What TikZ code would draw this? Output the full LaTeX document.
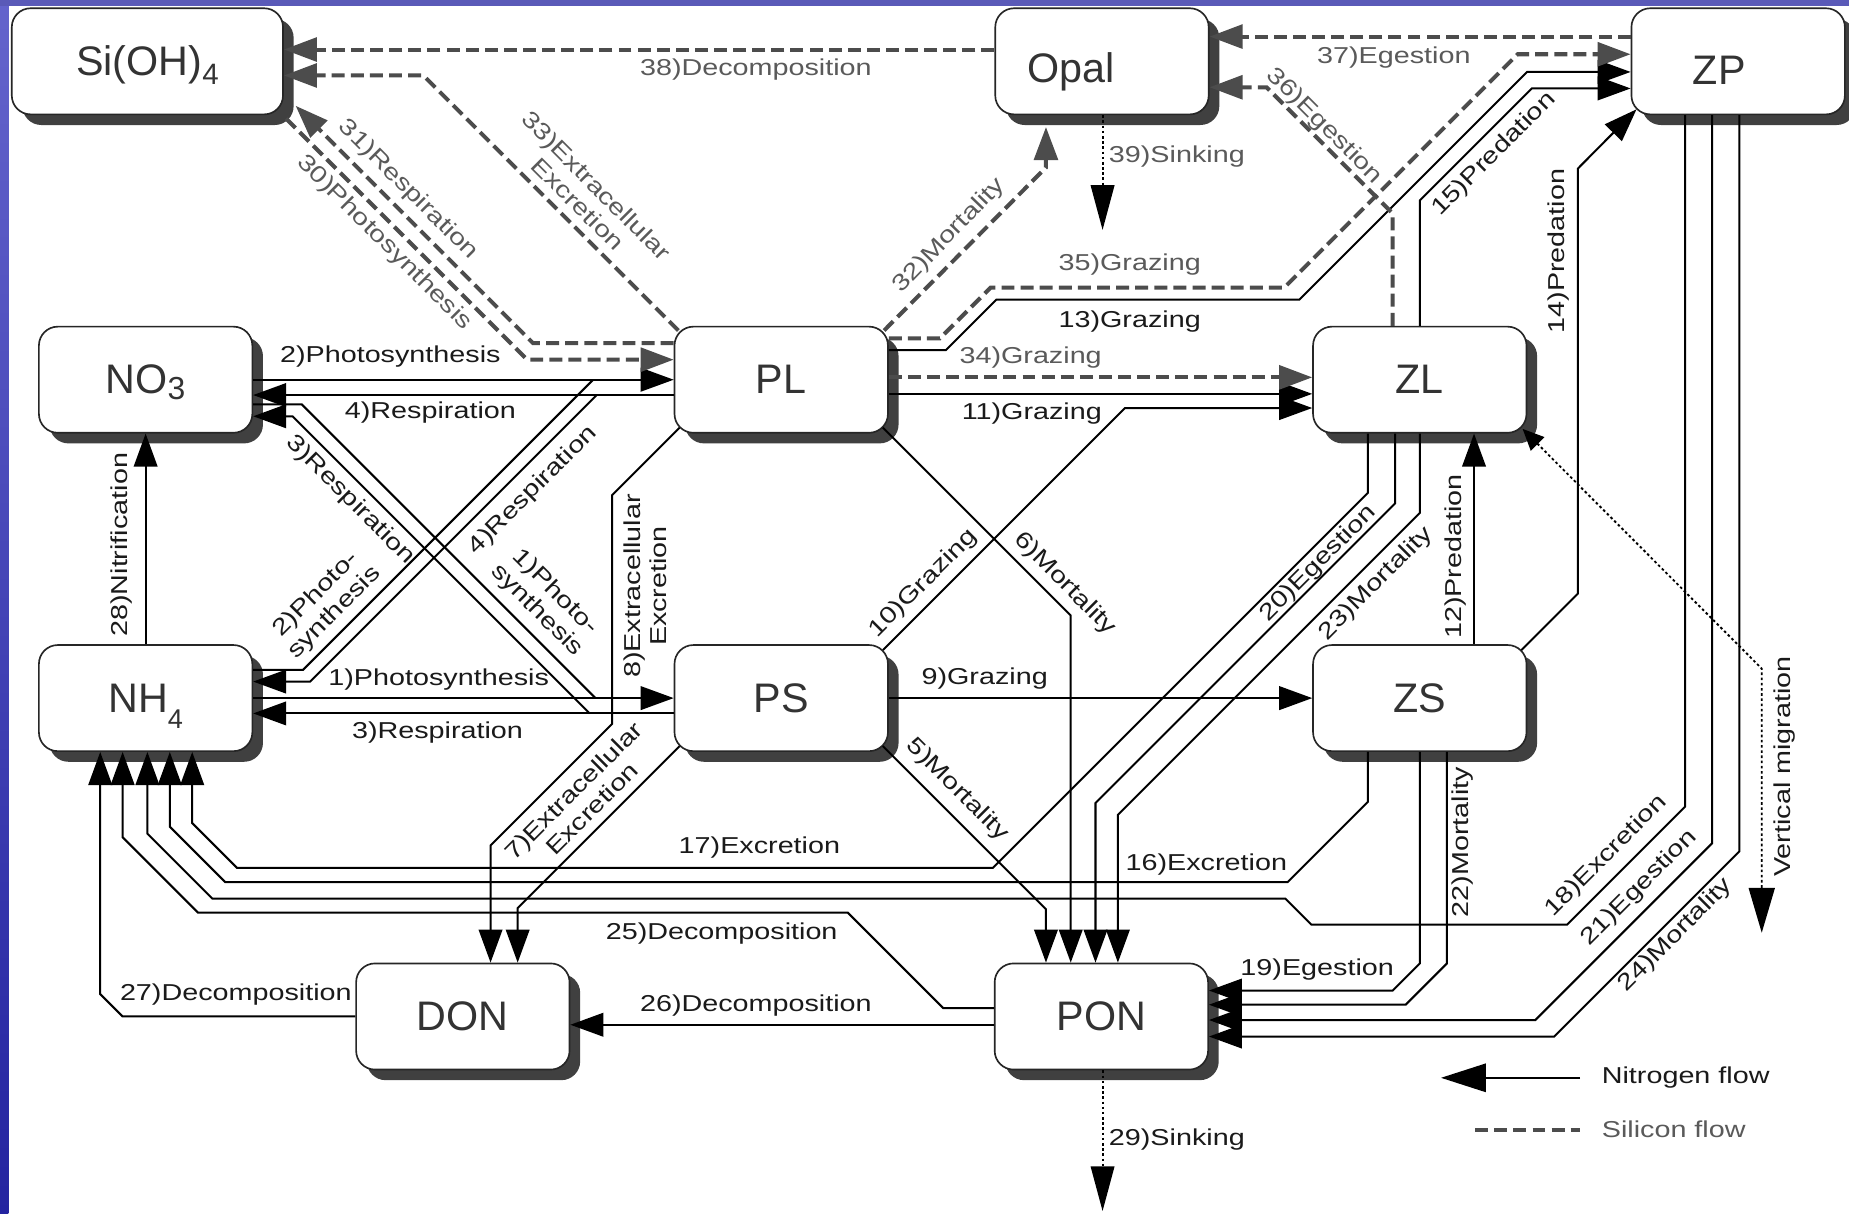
\documentclass[tikz,border=0pt]{standalone}
\usepackage{fontspec}
\setmainfont{Liberation Sans}
\newfontfamily\lblfont[FakeStretch=1.25]{Liberation Sans}
\usetikzlibrary{arrows.meta,shadows,calc}
\definecolor{sigray}{HTML}{4C4C4C}
\definecolor{sitext}{HTML}{5A5A5A}
\definecolor{ntext}{HTML}{1A1A1A}
\definecolor{boxtext}{HTML}{333333}
\definecolor{bluetop}{HTML}{6464CC}
\definecolor{bluebot}{HTML}{2424A0}
\newcommand{\subsc}[3]{\raisebox{#1}[0pt][0pt]{\fontsize{#2}{#2}\selectfont #3}}
\begin{document}
\begin{tikzpicture}[x=0.5pt,y=-0.5pt,
  box/.style={draw=black!85, line width=0.7pt, fill=white, rounded corners=8pt,
    minimum width=90.5pt, minimum height=45pt, inner sep=0pt,
    font=\fontsize{17.5}{20}\selectfont, text=boxtext,
    drop shadow={shadow xshift=4.5pt, shadow yshift=-4.5pt, fill=black!75, opacity=1}},
  nf/.style={draw=black, line width=0.85pt},
  sf/.style={draw=sigray, line width=1.7pt, dash pattern=on 5.5pt off 2.6pt},
  df/.style={draw=black, line width=0.8pt, dash pattern=on 1.1pt off 1.1pt},
  tip/.style={-{Triangle[length=14pt,width=10pt]}},
  stip/.style={-{Triangle[length=14pt,width=10pt,fill=sigray]}},
  bigtip/.style={-{Triangle[length=19pt,width=10pt]}},
  nl/.style={font=\lblfont\fontsize{9.75}{11}\selectfont, text=ntext, inner sep=0pt, align=center},
  sl/.style={nl, text=sitext},
]
\useasboundingbox (0,0) rectangle (1568,1029);
\fill[white] (0,0) rectangle (1568,1029);
\shade[top color=bluetop, bottom color=bluebot] (0,0) rectangle (7,1029);
\fill[bluetop!90!black] (0,0) rectangle (1568,5);

% ---------- boxes ----------
\node[box, minimum width=115pt] (Si) at (125,52) {\raisebox{-1.5pt}[\height][\depth]{Si(OH)\subsc{-4pt}{12.5}{4}}};
\node[box] (Opal) at (934.5,52) {\raisebox{-4.5pt}[\height][\depth]{\hspace*{-26pt}Opal}};
\node[box] (ZP) at (1474,52) {\raisebox{-4pt}[\height][\depth]{\hspace*{-16pt}ZP}};
\node[box] (NO3) at (123.5,322) {NO\subsc{-2.5pt}{13.5}{3}};
\node[box] (PL) at (662.5,322) {PL};
\node[box] (ZL) at (1204,322) {ZL};
\node[box] (NH4) at (123.5,592) {NH\subsc{-7pt}{11.5}{4}};
\node[box] (PS) at (662.5,592) {PS};
\node[box] (ZS) at (1204,592) {ZS};
\node[box] (DON) at (392.5,862) {DON};
\node[box] (PON) at (934,862) {PON};

% ---------- nitrogen flows ----------
\draw[nf,tip] (NO3.east |- 0,322) -- (PL.west |- 0,322);
\draw[nf] (NH4.east |- 0,568) -- (257,568) -- (503,322);
\draw[nf,tip] (PL.west |- 0,335) -- (NO3.east |- 0,335);
\draw[nf,tip] (506,335) -- (263,578) -- (NH4.east |- 0,578);
\draw[nf,tip] (NH4.east |- 0,592) -- (PS.west |- 0,592);
\draw[nf] (NO3.east |- 0,343) -- (256,343) -- (505,592);
\draw[nf,tip] (PS.west |- 0,605) -- (NH4.east |- 0,605);
\draw[nf,tip] (500,605) -- (248,353) -- (NO3.east |- 0,353);
\draw[nf,tip] ($(PS.south east)+(-5,-5)$) -- (887,771) -- (PON.north -| 887,0);
\draw[nf,tip] ($(PL.south east)+(-5,-5)$) -- (908,522) -- (PON.north -| 908,0);
\draw[nf,tip] ($(PS.south west)+(5,-5)$) -- (439,770) -- (DON.north -| 439,0);
\draw[nf,tip] ($(PL.south west)+(5,-5)$) -- (519,420) -- (519,614) -- (416,717) -- (DON.north -| 416,0);
\draw[nf,tip] (PS.east |- 0,592) -- (ZS.west |- 0,592);
\draw[nf,tip] ($(PS.north east)+(-5,5)$) -- (954,346) -- (ZL.west |- 0,346);
\draw[nf,tip] (PL.east |- 0,334) -- (ZL.west |- 0,334);
\draw[nf,tip] (ZS.north -| 1250,0) -- (ZL.south -| 1250,0);
\draw[nf,tip] (PL.east |- 0,297) -- (802,297) -- (845,254) -- (1102,254) -- (1295,61) -- (ZP.west |- 0,61);
\draw[nf,tip] ($(ZS.north east)+(-5,5)$) -- (1338,503.5) -- (1338,143) -- ($(ZP.south west)+(5,-5)$);
\draw[nf,tip] (ZL.north -| 1204,0) -- (1204,170) -- (1299,75) -- (ZP.west |- 0,75);
\draw[nf,tip] (ZS.south -| 1160,0) -- (1160,680) -- (1092,748) -- (191,748) -- (144,701) -- (NH4.south -| 144,0);
\draw[nf,tip] (ZL.south -| 1160,0) -- (1160,418) -- (842,736) -- (201,736) -- (163,698) -- (NH4.south -| 163,0);
\draw[nf,tip] (ZP.south -| 1429,0) -- (1429,684) -- (1329,784) -- (1112,784) -- (1090,762) -- (180,762) -- (125,707) -- (NH4.south -| 125,0);
\draw[nf,tip] (ZS.south -| 1204,0) -- (1204,817) -- (1181,840) -- (PON.east |- 0,840);
\draw[nf,tip] (ZL.south -| 1183,0) -- (1183,427) -- (929,681) -- (PON.north -| 929,0);
\draw[nf,tip] (ZP.south -| 1452,0) -- (1452,715) -- (1302,865) -- (PON.east |- 0,865);
\draw[nf,tip] (ZS.south -| 1227,0) -- (1227,817) -- (1192,852) -- (PON.east |- 0,852);
\draw[nf,tip] (ZL.south -| 1204,0) -- (1204,435) -- (948,691) -- (PON.north -| 948,0);
\draw[nf,tip] (ZP.south -| 1475,0) -- (1475,722) -- (1318,879) -- (PON.east |- 0,879);
\draw[nf,tip] (PON.west |- 0,855) -- (800,855) -- (719,774) -- (168,774) -- (104,710) -- (NH4.south -| 104,0);
\draw[nf,tip] (PON.west |- 0,869) -- (DON.east |- 0,869);
\draw[nf,tip] (DON.west |- 0,862) -- (104,862) -- (85,843) -- (NH4.south -| 85,0);
\draw[nf,tip] (NH4.north) -- (NO3.south);
\draw[df,bigtip] (PON.south -| 935,0) -- (935,1027);

% ---------- silicon flows ----------
\draw[sf,stip] ($(Si.south east)+(2,3)$) -- (447,305) -- (PL.west |- 0,305);
\draw[sf,stip] (PL.west |- 0,291) -- (452,291) -- ($(Si.south east)+(10,-8)$);
\draw[sf,stip] ($(PL.north east)+(-4,4)$) -- (887,142) -- ($(Opal.south -| 887,0)+(0,10)$);
\draw[sf,stip] ($(PL.north west)+(4,4)$) -- (359,64) -- (Si.east |- 0,64);
\draw[sf,stip] (PL.east |- 0,320) -- (ZL.west |- 0,320);
\draw[sf,stip] (PL.east |- 0,287) -- (797,287) -- (840,244) -- (1089,244) -- (1287,46) -- (ZP.west |- 0,46);
\draw[sf,stip] (ZL.north -| 1181,0) -- (1181,181) -- (1074,74) -- (Opal.east |- 0,74);
\draw[sf,stip] (ZP.west |- 0,31) -- (Opal.east |- 0,31);
\draw[sf,stip] (Opal.west |- 0,42) -- (Si.east |- 0,42);
\draw[df,bigtip] (Opal.south -| 935,0) -- (935,195);
\draw[df,{Triangle[length=9pt,width=8pt]}-{Triangle[length=19pt,width=11pt]}] ($(ZL.south east)+(-4,-4)$) -- (1494,567) -- (1494,791);

% ---------- labels: nitrogen ----------
\node[nl] (t1h) at (372,576) {1)Photosynthesis};
\node[nl] (t2h) at (331,302) {2)Photosynthesis};
\node[nl] (t3h) at (371,621) {3)Respiration};
\node[nl] (t4h) at (365,350) {4)Respiration};
\node[nl,rotate=45] (t2d) at (276,512) {2)Photo-\\synthesis};
\node[nl,rotate=45] (t4d) at (452,416) {4)Respiration};
\node[nl,rotate=-45] (t3d) at (297,424) {3)Respiration};
\node[nl,rotate=-45] (t1d) at (463,510) {1)Photo-\\synthesis};
\node[nl,rotate=90] (t28) at (103,462) {28)Nitrification};
\node[nl,rotate=90] (t8) at (547,497) {8)Extracellular\\Excretion};
\node[nl,rotate=45] (t7) at (494,678) {7)Extracellular\\Excretion};
\node[nl,rotate=-45] (t5) at (812,670) {5)Mortality};
\node[nl,rotate=-45] (t6) at (903,495) {6)Mortality};
\node[nl] (t9) at (835,575) {9)Grazing};
\node[nl,rotate=45] (t10) at (783,495) {10)Grazing};
\node[nl] (t11) at (875,351) {11)Grazing};
\node[nl,rotate=90] (t12) at (1234,472) {12)Predation};
\node[nl] (t13) at (958,273) {13)Grazing};
\node[nl,rotate=90] (t14) at (1322,213) {14)Predation};
\node[nl,rotate=45] (t15) at (1267,131) {15)Predation};
\node[nl] (t16) at (1023,733) {16)Excretion};
\node[nl] (t17) at (644,719) {17)Excretion};
\node[nl,rotate=45] (t18) at (1362,726) {18)Excretion};
\node[nl] (t19) at (1117,822) {19)Egestion};
\node[nl,rotate=45] (t20) at (1118,478) {20)Egestion};
\node[nl,rotate=45] (t21) at (1390,753) {21)Egestion};
\node[nl,rotate=90] (t22) at (1240,714) {22)Mortality};
\node[nl,rotate=45] (t23) at (1167,495) {23)Mortality};
\node[nl,rotate=45] (t24) at (1421,793) {24)Mortality};
\node[nl] (t25) at (612,792) {25)Decomposition};
\node[nl] (t26) at (641,853) {26)Decomposition};
\node[nl] (t27) at (200,843) {27)Decomposition};
\node[nl] (t29) at (998,966) {29)Sinking};
\node[nl,rotate=90] (tvm) at (1513,650) {Vertical migration};

% ---------- labels: silicon ----------
\node[sl,rotate=-45] (t30) at (326,206) {30)Photosynthesis};
\node[sl,rotate=-45] (t31) at (346,161) {31)Respiration};
\node[sl,rotate=46] (t32) at (805,200) {32)Mortality};
\node[sl,rotate=-45] (t33) at (498,165) {33)Extracellular\\Excretion};
\node[sl] (t34) at (874,303) {34)Grazing};
\node[sl] (t35) at (958,224) {35)Grazing};
\node[sl,rotate=-45] (t36) at (1123,107) {36)Egestion};
\node[sl] (t37) at (1182,49) {37)Egestion};
\node[sl] (t38) at (641,59) {38)Decomposition};
\node[sl] (t39) at (998,133) {39)Sinking};

% ---------- legend ----------
\coordinate (lgA) at (1340,914);
\coordinate (lgB) at (1222,914);
\draw[nf,-{Triangle[length=19pt,width=12pt]}] (lgA) -- (lgB);
\node[nl,anchor=west] (lgN) at (1358,914) {Nitrogen flow};
\coordinate (lgC) at (1251,958);
\coordinate (lgD) at (1340,958);
\draw[sf] (lgC) -- (lgD);
\node[sl,anchor=west] (lgS) at (1358,958) {Silicon flow};
\end{tikzpicture}
\end{document}
